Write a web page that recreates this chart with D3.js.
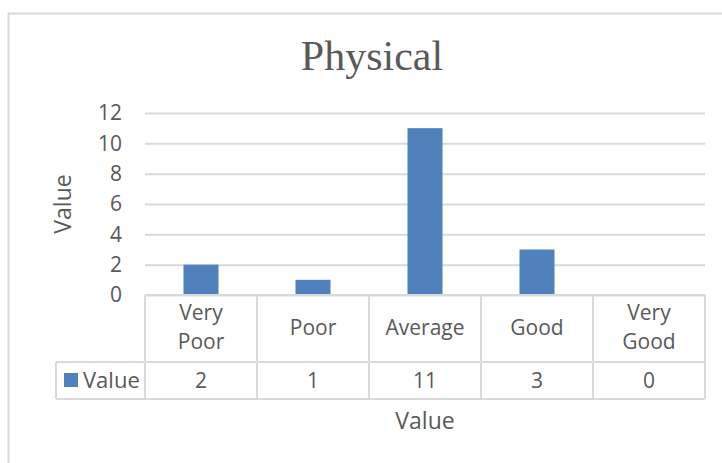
<!DOCTYPE html>
<html>
<head>
<meta charset="utf-8">
<script src="https://cdn.jsdelivr.net/npm/d3@7"></script>
<style>
	body { margin: 0; background: #fff; }
	svg { display: block; font-family: 'Open Sans', sans-serif; }
	text { fill: #595959; }
</style>
</head>
<body>
<svg></svg>
<script>
// chart data
const categories = ['Very Poor', 'Poor', 'Average', 'Good', 'Very Good'];
const values = [2, 1, 11, 3, 0];
const yTicks = [0, 2, 4, 6, 8, 10, 12];
const seriesName = 'Value';

const width = 722;
const height = 463;

const plot = { left: 145, right: 705, top: 113, bottom: 295 };
const rowLine = 362;   // line between category row and value row
const tableBottom = 399;
const legendLeft = 56;

const gridColor = '#d9d9d9';
const barColor = '#4f81bd';

const svg = d3.select('svg')
	.attr('width', width)
	.attr('height', height);

svg.append('rect')
	.attr('width', width)
	.attr('height', height)
	.attr('fill', '#fff');

// outer chart border (runs off the right and bottom of the picture)
svg.append('rect')
	.attr('x', 8.5)
	.attr('y', 13.5)
	.attr('width', width)
	.attr('height', height)
	.attr('fill', 'none')
	.attr('stroke', gridColor)
	.attr('stroke-width', 2);

svg.append('text')
	.text('Physical')
	.attr('x', 372)
	.attr('y', 70)
	.attr('text-anchor', 'middle')
	.style('font-family', "'Liberation Serif', 'Times New Roman', serif")
	.style('font-size', '42px');

const yScale = d3.scaleLinear()
	.domain([0, 12])
	.range([plot.bottom, plot.top]);

const xScale = d3.scaleBand()
	.domain(categories)
	.range([plot.left, plot.right])
	.paddingInner(0.6875)
	.paddingOuter(0.34375);

// gridlines + tick labels
const yAxis = d3.axisLeft(yScale)
	.tickValues(yTicks)
	.tickSize(-(plot.right - plot.left))
	.tickPadding(23);

const yg = svg.append('g')
	.attr('transform', `translate(${plot.left}, 0)`)
	.call(yAxis);

yg.select('.domain').remove();
yg.selectAll('.tick line')
	.attr('stroke', gridColor)
	.attr('stroke-width', 2);
yg.selectAll('.tick text')
	.attr('fill', '#595959')
	.style('font-family', "'Open Sans', sans-serif")
	.style('font-size', '21px');

svg.append('text')
	.text('Value')
	.attr('transform', `translate(71, ${(plot.top + plot.bottom) / 2}) rotate(-90)`)
	.attr('text-anchor', 'middle')
	.style('font-size', '23px');

// bars
svg.append('g')
	.selectAll('rect')
	.data(values)
	.enter()
	.append('rect')
	.attr('x', (d, i) => xScale(categories[i]))
	.attr('y', d => yScale(d))
	.attr('width', xScale.bandwidth())
	.attr('height', d => yScale(0) - yScale(d))
	.attr('fill', barColor);

// data table
const table = svg.append('g')
	.attr('stroke', gridColor)
	.attr('stroke-width', 2)
	.attr('fill', 'none');

const step = xScale.step();
const edges = categories.map((c, i) => plot.left + i * step).concat([plot.right]);

table.append('line')
	.attr('x1', plot.left).attr('x2', plot.right)
	.attr('y1', yScale(0)).attr('y2', yScale(0));

[rowLine, tableBottom].forEach(y => {
	table.append('line')
		.attr('x1', legendLeft).attr('x2', plot.right)
		.attr('y1', y).attr('y2', y);
});

edges.forEach(x => {
	table.append('line')
		.attr('x1', x).attr('x2', x)
		.attr('y1', yScale(0)).attr('y2', tableBottom);
});

table.append('line')
	.attr('x1', legendLeft).attr('x2', legendLeft)
	.attr('y1', rowLine).attr('y2', tableBottom);

// category labels, wrapped to two lines where they have two words
categories.forEach((c, i) => {
	const cx = plot.left + (i + 0.5) * step;
	const words = c.split(' ');
	const t = svg.append('text')
		.attr('text-anchor', 'middle')
		.style('font-size', '21px');
	if (words.length === 1) {
		t.append('tspan').attr('x', cx).attr('y', 335).text(c);
	} else {
		t.append('tspan').attr('x', cx).attr('y', 320).text(words[0]);
		t.append('tspan').attr('x', cx).attr('y', 349).text(words.slice(1).join(' '));
	}
});

// value row
svg.append('g')
	.selectAll('text')
	.data(values)
	.enter()
	.append('text')
	.text(d => d)
	.attr('x', (d, i) => plot.left + (i + 0.5) * step)
	.attr('y', 388)
	.attr('text-anchor', 'middle')
	.style('font-size', '21px');

// legend key in the table
svg.append('rect')
	.attr('x', 64)
	.attr('y', 373)
	.attr('width', 14)
	.attr('height', 14)
	.attr('fill', barColor);

svg.append('text')
	.text(seriesName)
	.attr('x', 83)
	.attr('y', 388)
	.style('font-size', '22px');

// x axis title
svg.append('text')
	.text('Value')
	.attr('x', (plot.left + plot.right) / 2)
	.attr('y', 429)
	.attr('text-anchor', 'middle')
	.style('font-size', '23px');
</script>
</body>
</html>
